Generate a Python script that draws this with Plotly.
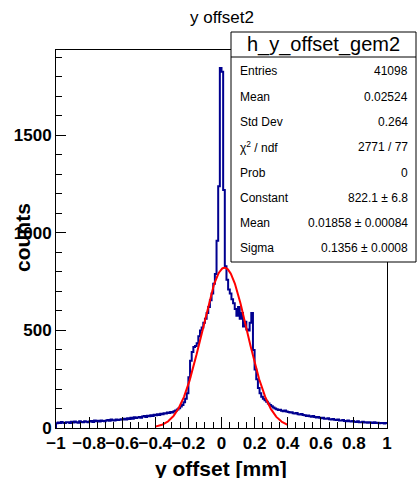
import numpy as np
import plotly.graph_objects as go

# ---- data ----
bin_low = -1.0
bin_width = 0.01
counts = [
    24, 28, 26, 31, 27, 25, 30, 29, 26, 32,
    28, 33, 30, 27, 34, 31, 29, 35, 32, 30,
    33, 36, 31, 38, 34, 37, 33, 39, 36, 35,
    38, 41, 37, 43, 40, 39, 44, 41, 42, 45,
    43, 47, 44, 50, 46, 52, 48, 55, 51, 54,
    56, 52, 59, 61, 57, 63, 60, 66, 62, 68,
    65, 70, 67, 73, 71, 76, 74, 79, 77, 82,
    80, 86, 90, 95, 101, 110, 118, 132, 150, 178,
    260, 345, 390, 415, 420, 435, 470, 500, 515, 540,
    560, 590, 620, 655, 690, 740, 790, 960, 1240, 1846,
    1827, 1220, 830, 760, 710, 690, 660, 640, 610, 575,
    620, 560, 590, 520, 545, 505, 500, 540, 590, 400,
    300, 250, 205, 178, 160, 150, 142, 135, 125, 118,
    112, 105, 100, 96, 92, 94, 88, 86, 90, 84,
    82, 79, 81, 76, 74, 77, 71, 69, 72, 67,
    65, 62, 64, 60, 58, 61, 56, 54, 57, 52,
    50, 53, 48, 47, 50, 45, 44, 46, 42, 41,
    43, 39, 38, 41, 36, 35, 38, 34, 33, 36,
    32, 31, 34, 30, 29, 32, 28, 30, 27, 29,
    28, 26, 29, 25, 27, 24, 26, 25, 23, 25,
]
fit_const = 822.1
fit_mean = 0.01858
fit_sigma = 0.1356
fit_range = (-0.4, 0.4)

stats_title = "h_y_offset_gem2"
stats_labels = ["Entries", "Mean", "Std Dev", "χ<sup>2</sup> / ndf", "Prob",
                "Constant", "Mean", "Sigma"]
stats_values = ["41098", "0.02524", "0.264", "2771 / 77", "0",
                "822.1 ± 6.8", "0.01858 ± 0.00084", "0.1356 ± 0.0008"]

# ---- build ----
n = len(counts)
edges = [bin_low + bin_width * i for i in range(n + 1)]
hx = [edges[0]] + edges
hy = [0] + counts + [counts[-1]]

fx = np.linspace(fit_range[0], fit_range[1], 300)
fy = fit_const * np.exp(-0.5 * ((fx - fit_mean) / fit_sigma) ** 2)

ymax = max(counts) * 1.05

fig = go.Figure()
fig.add_trace(go.Scatter(x=hx, y=hy, mode="lines", line=dict(shape="hv", color="#000090", width=2),
                         hoverinfo="skip", showlegend=False))
fig.add_trace(go.Scatter(x=fx, y=fy, mode="lines", line=dict(color="#ff0000", width=2),
                         hoverinfo="skip", showlegend=False))

FONT = "Liberation Sans, Arial, sans-serif"
W, H = 417, 478
L, R, T, B = 56, 30, 50, 50
pw, ph = W - L - R, H - T - B


def px(p):
    return (p - L) / pw


def py(p):
    return (H - B - p) / ph


fig.update_layout(
    width=W, height=H,
    margin=dict(l=L, r=R, t=T, b=B, autoexpand=False),
    paper_bgcolor="white", plot_bgcolor="white",
    showlegend=False,
    xaxis=dict(range=[-1, 1], dtick=0.2, tick0=0, ticks="inside", ticklen=11, tickwidth=1,
               tickangle=0, automargin=False,
               tickcolor="black", showline=True, linecolor="black", linewidth=1, mirror=True,
               showgrid=False, zeroline=False,
               tickfont=dict(family=FONT, size=17, color="black", weight="bold"),
               minor=dict(dtick=0.05, ticks="inside", ticklen=6, tickcolor="black", showgrid=False)),
    yaxis=dict(range=[0, ymax], dtick=500, tick0=0, ticks="inside", ticklen=10, tickwidth=1,
               automargin=False,
               tickcolor="black", showline=True, linecolor="black", linewidth=1, mirror=True,
               showgrid=False, zeroline=False,
               tickfont=dict(family=FONT, size=17, color="black", weight="bold"),
               minor=dict(dtick=100, ticks="inside", ticklen=6, tickcolor="black", showgrid=False)),
)

annotations = []
shapes = []
# main title
annotations.append(dict(text="y offset2", x=0.5, y=py(17), xref="paper", yref="paper",
                        xanchor="center", yanchor="middle", showarrow=False,
                        font=dict(family=FONT, size=17, color="black")))
# axis titles
annotations.append(dict(text="y offset [mm]", x=px(221), y=py(455), xref="paper", yref="paper",
                        xanchor="center", yanchor="top", showarrow=False,
                        font=dict(family=FONT, size=21, color="black", weight="bold")))
annotations.append(dict(text="counts", x=px(22), y=py(238), xref="paper", yref="paper",
                        xanchor="center", yanchor="middle", showarrow=False, textangle=-90,
                        font=dict(family=FONT, size=21, color="black", weight="bold")))

# stats box
bx0, bx1, by0, by1, bysep = 231, 416, 32, 262, 57
shapes.append(dict(type="rect", xref="paper", yref="paper", x0=px(bx0), x1=px(bx1),
                   y0=py(by1), y1=py(by0), line=dict(color="black", width=1), fillcolor="white",
                   layer="above"))
shapes.append(dict(type="line", xref="paper", yref="paper", x0=px(bx0), x1=px(bx1),
                   y0=py(bysep), y1=py(bysep), line=dict(color="black", width=1), layer="above"))
annotations.append(dict(text=stats_title, x=px((bx0 + bx1) / 2), y=py(44.5), xref="paper",
                        yref="paper", xanchor="center", yanchor="middle", showarrow=False,
                        font=dict(family=FONT, size=20, color="black")))
row_y = [71, 97, 122, 147, 173, 198, 223, 248]
for lab, val, yy in zip(stats_labels, stats_values, row_y):
    annotations.append(dict(text=lab, x=px(238), y=py(yy), xref="paper", yref="paper",
                            xanchor="left", yanchor="middle", showarrow=False,
                            font=dict(family=FONT, size=12, color="black")))
    annotations.append(dict(text=val, x=px(410), y=py(yy), xref="paper", yref="paper",
                            xanchor="right", yanchor="middle", showarrow=False,
                            font=dict(family=FONT, size=12, color="black")))

fig.update_layout(annotations=annotations, shapes=shapes)
fig.write_html("out.html", config={"displayModeBar": False},
               post_script="document.body.style.margin='0';")
